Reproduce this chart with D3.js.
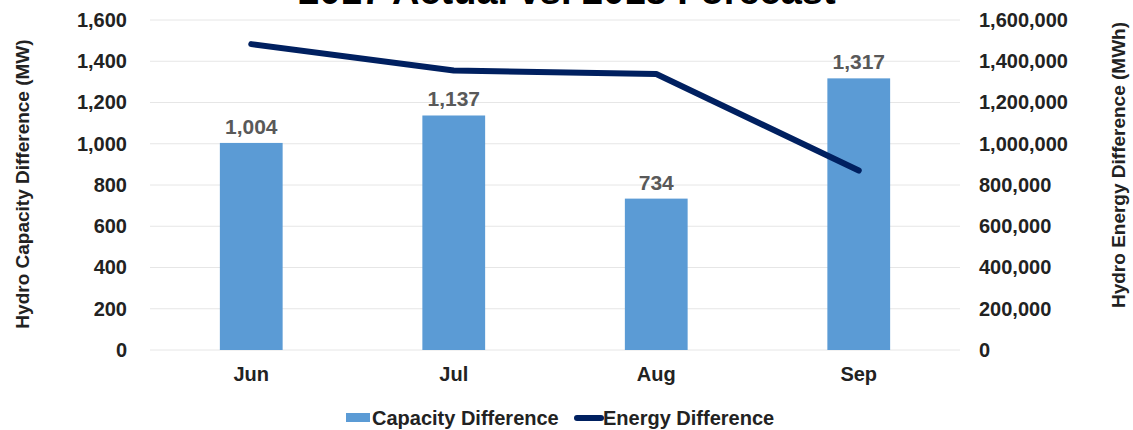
<!DOCTYPE html>
<html>
<head>
<meta charset="utf-8">
<script src="https://cdn.jsdelivr.net/npm/d3@7"></script>
<style>
  body { margin: 0; background: #fff; }
  text { font-family: "Liberation Sans", Arial, sans-serif; font-weight: bold; }
</style>
</head>
<body>
<div id="chart"></div>
<script>
// chart data
var months = ["Jun", "Jul", "Aug", "Sep"];
var capacity = [1004, 1137, 734, 1317];
var energy = [1483000, 1355000, 1338000, 870000];
var leftTicks = [0, 200, 400, 600, 800, 1000, 1200, 1400, 1600];
var rightTicks = [0, 200000, 400000, 600000, 800000, 1000000, 1200000, 1400000, 1600000];

var svgWidth = 1133;
var svgHeight = 430;
var margin = { top: 20, right: 173, bottom: 80, left: 150 };
var width = svgWidth - margin.left - margin.right;
var height = svgHeight - margin.top - margin.bottom;

var svg = d3.select("#chart")
  .append("svg")
  .attr("width", svgWidth)
  .attr("height", svgHeight);

var chartGroup = svg.append("g")
  .attr("transform", `translate(${margin.left}, ${margin.top})`);

var fmt = d3.format(",");

// scales
var xScale = d3.scaleBand().domain(months).range([0, width])
  .paddingInner(0.69).paddingOuter(0.345);
var yLeft = d3.scaleLinear().domain([0, 1600]).range([height, 0]);
var yRight = d3.scaleLinear().domain([0, 1600000]).range([height, 0]);

// gridlines
chartGroup.append("g")
  .selectAll("line")
  .data(leftTicks)
  .enter()
  .append("line")
  .attr("x1", 0)
  .attr("x2", width)
  .attr("y1", d => yLeft(d))
  .attr("y2", d => yLeft(d))
  .attr("stroke", "#e6e6e6")
  .attr("stroke-width", 1);

// left axis
var leftAxis = d3.axisLeft(yLeft).tickValues(leftTicks).tickFormat(fmt).tickSize(0).tickPadding(23);
var yAxisL = chartGroup.append("g").call(leftAxis);
yAxisL.select(".domain").remove();
yAxisL.selectAll("text").attr("font-size", "20px").attr("fill", "#222");

// right axis
var rightAxis = d3.axisRight(yRight).tickValues(rightTicks).tickFormat(fmt).tickSize(0).tickPadding(19);
var yAxisR = chartGroup.append("g")
  .attr("transform", `translate(${width}, 0)`)
  .call(rightAxis);
yAxisR.select(".domain").remove();
yAxisR.selectAll("text").attr("font-size", "20px").attr("fill", "#222");

// x axis
var bottomAxis = d3.axisBottom(xScale).tickSize(0).tickPadding(17);
var xAxis = chartGroup.append("g")
  .attr("transform", `translate(0, ${height})`)
  .call(bottomAxis);
xAxis.select(".domain").remove();
xAxis.selectAll("text").attr("font-size", "20px").attr("fill", "#222");

// bars
chartGroup.selectAll(".bar")
  .data(capacity)
  .enter()
  .append("rect")
  .attr("class", "bar")
  .attr("x", (d, i) => xScale(months[i]))
  .attr("y", d => yLeft(d))
  .attr("width", xScale.bandwidth())
  .attr("height", d => height - yLeft(d))
  .attr("fill", "#5b9bd5");

// bar labels
chartGroup.selectAll(".barLabel")
  .data(capacity)
  .enter()
  .append("text")
  .attr("x", (d, i) => xScale(months[i]) + xScale.bandwidth() / 2)
  .attr("y", d => yLeft(d) - 9)
  .attr("text-anchor", "middle")
  .attr("font-size", "21px")
  .attr("fill", "#595959")
  .text(d => fmt(d));

// energy line
var line = d3.line()
  .x((d, i) => xScale(months[i]) + xScale.bandwidth() / 2)
  .y(d => yRight(d));

chartGroup.append("path")
  .datum(energy)
  .attr("d", line)
  .attr("fill", "none")
  .attr("stroke", "#002060")
  .attr("stroke-width", 6)
  .attr("stroke-linecap", "round")
  .attr("stroke-linejoin", "round");

// title (cut off at top, as in the source)
svg.append("text")
  .attr("x", 567)
  .attr("y", 4)
  .attr("text-anchor", "middle")
  .attr("font-size", "38px")
  .attr("fill", "#000")
  .text("2017 Actual vs. 2018 Forecast");

// axis titles
svg.append("text")
  .attr("transform", "translate(29, 184) rotate(-90)")
  .attr("text-anchor", "middle")
  .attr("font-size", "19px")
  .attr("fill", "#222")
  .text("Hydro Capacity Difference (MW)");

svg.append("text")
  .attr("transform", "translate(1125, 165) rotate(-90)")
  .attr("text-anchor", "middle")
  .attr("font-size", "19px")
  .attr("fill", "#222")
  .text("Hydro Energy Difference (MWh)");

// legend
var legend = svg.append("g").attr("transform", "translate(346, 418)");
legend.append("rect")
  .attr("x", 0).attr("y", -5).attr("width", 24).attr("height", 9)
  .attr("fill", "#5b9bd5");
legend.append("text")
  .attr("x", 26).attr("y", 0).attr("dy", "0.35em")
  .attr("font-size", "20px").attr("fill", "#222")
  .text("Capacity Difference");
legend.append("line")
  .attr("x1", 231).attr("x2", 255).attr("y1", 0).attr("y2", 0)
  .attr("stroke", "#002060").attr("stroke-width", 6).attr("stroke-linecap", "round");
legend.append("text")
  .attr("x", 257).attr("y", 0).attr("dy", "0.35em")
  .attr("font-size", "20px").attr("fill", "#222")
  .text("Energy Difference");
</script>
</body>
</html>
